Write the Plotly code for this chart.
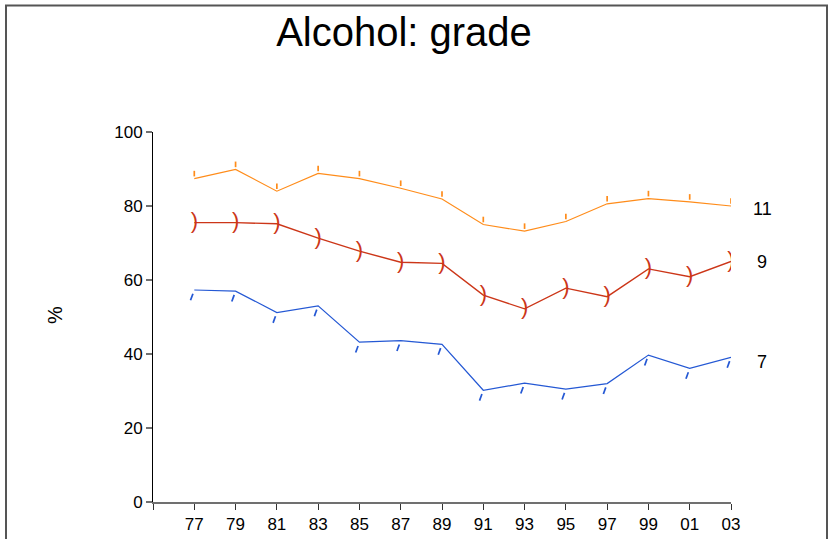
import plotly.graph_objects as go

years = [1977, 1979, 1981, 1983, 1985, 1987, 1989, 1991, 1993, 1995, 1997, 1999, 2001, 2003]
tick_vals = [1975, 1977, 1979, 1981, 1983, 1985, 1987, 1989, 1991, 1993, 1995, 1997, 1999, 2001, 2003]
tick_text = ["", "77", "79", "81", "83", "85", "87", "89", "91", "93", "95", "97", "99", "01", "03"]

grade11 = [87.4, 89.9, 84.0, 88.8, 87.4, 84.8, 81.9, 75.0, 73.2, 75.8, 80.6, 82.0, 81.1, 80.0]
grade9 = [75.5, 75.5, 75.2, 71.3, 67.8, 64.8, 64.5, 55.9, 52.2, 57.8, 55.5, 63.0, 60.9, 65.0]
grade7 = [57.3, 57.0, 51.2, 53.0, 43.2, 43.6, 42.6, 30.2, 32.1, 30.5, 32.0, 39.7, 36.1, 39.1]

W, H = 829, 539
L, R, T, B = 153, 98, 132, 37
pw, ph = W - L - R, H - T - B
FONT = "Liberation Sans, Arial, sans-serif"

C11, C9, C7 = "#FF8C1A", "#CC3618", "#2458D4"

fig = go.Figure()

# grade 11: line + small vertical tick just above each point
fig.add_trace(go.Scatter(
    x=years, y=grade11, mode="lines+markers", name="11",
    line=dict(color=C11, width=1.2),
    marker=dict(symbol="line-ns", size=4, angle=180, standoff=5,
                color=C11, line=dict(color=C11, width=1.7)),
    showlegend=False, hoverinfo="skip",
))

# grade 9: line + ")" arcs
fig.add_trace(go.Scatter(
    x=years, y=grade9, mode="lines+text", name="9",
    line=dict(color=C9, width=1.4),
    text=[")"] * len(grade9), textposition="middle center",
    textfont=dict(color=C9, size=22, family=FONT),
    showlegend=False, hoverinfo="skip",
))

# grade 7: line + small slanted tick just below each point
fig.add_trace(go.Scatter(
    x=years, y=grade7, mode="lines+markers", name="7",
    line=dict(color=C7, width=1.2),
    marker=dict(symbol="line-ns", size=5, angle=20, standoff=7.5,
                color=C7, line=dict(color=C7, width=1.7)),
    showlegend=False, hoverinfo="skip",
))

for name, vals, ys in [("11", grade11, -3), ("9", grade9, 0), ("7", grade7, -5)]:
    fig.add_annotation(x=years[-1], y=vals[-1], text=name, showarrow=False,
                       xanchor="center", yanchor="middle", xshift=31, yshift=ys,
                       font=dict(family=FONT, size=18, color="#000"))

fig.add_annotation(xref="paper", yref="paper", x=(55 - L) / pw, y=(H - B - 315) / ph,
                   text="%", showarrow=False, textangle=-90,
                   xanchor="center", yanchor="middle",
                   font=dict(family=FONT, size=20, color="#000"))

fig.add_shape(type="rect", xref="paper", yref="paper",
              x0=(6 - L) / pw, x1=(827 - L) / pw,
              y0=(H - B - 560) / ph, y1=(H - B - 5.5) / ph,
              line=dict(color="#555555", width=2), fillcolor="rgba(0,0,0,0)", layer="below")

fig.update_layout(
    width=W, height=H,
    margin=dict(l=L, r=R, t=T, b=B, autoexpand=False),
    paper_bgcolor="white", plot_bgcolor="white",
    title=dict(text="Alcohol: grade", x=404 / W, xanchor="center",
               y=1 - 32 / H, yanchor="middle", yref="container",
               font=dict(family=FONT, size=40, color="#000")),
    xaxis=dict(range=[1975, 2003], tickvals=tick_vals, ticktext=tick_text, automargin=False,
               showgrid=False, zeroline=False, showline=True, linecolor="#707070", linewidth=2,
               ticks="outside", ticklen=6, tickcolor="#333", tickwidth=1,
               tickfont=dict(family=FONT, size=17, color="#000")),
    yaxis=dict(range=[0, 100], tickvals=[0, 20, 40, 60, 80, 100], automargin=False,
               showgrid=False, zeroline=False, showline=True, linecolor="#000", linewidth=1,
               ticks="outside", ticklen=6, tickcolor="#707070", tickwidth=2,
               tickfont=dict(family=FONT, size=17, color="#000")),
)

fig.write_html("out.html", config={"displayModeBar": False},
               post_script="document.body.style.margin='0';document.body.style.overflow='hidden';")
